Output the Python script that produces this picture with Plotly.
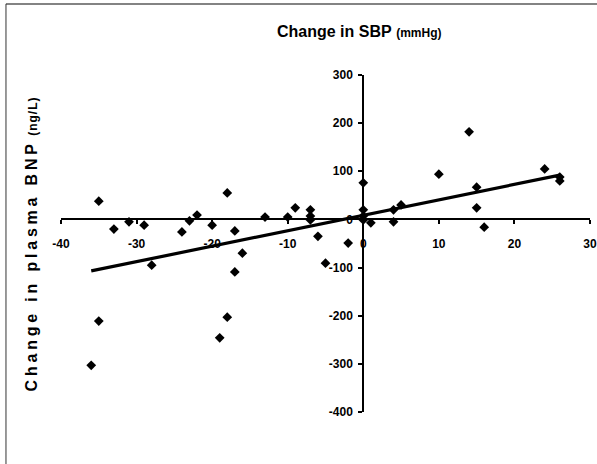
import numpy as np
import plotly.graph_objects as go

# Change in systolic blood pressure (mmHg) per subject
sbp_change = [
    -36, -35, -35, -33, -31, -29, -28, -24, -23, -22,
    -20, -18, -17, -16, -17, -18, -19, -13, -10, -9,
    -7, -7, -7, -6, -5, -2, 0, 0, 0, 0,
    1, 4, 4, 5, 10, 14, 15, 15, 16, 24,
    26, 26,
]
# Change in plasma BNP (ng/L) per subject
bnp_change = [
    -303, 38, -211, -20, -5, -12, -95, -26, -3, 9,
    -12, 55, -24, -70, -109, -203, -246, 5, 5, 24,
    20, 7, -1, -35, -91, -49, 76, 20, 7, -1,
    -7, 20, -5, 30, 94, 182, 67, 24, -16, 105,
    80, 88,
]

# Linear trend (slope, intercept)
trend_slope = 3.21
trend_intercept = 8.6

x_ticks = [-40, -30, -20, -10, 0, 10, 20, 30]
y_ticks = [-400, -300, -200, -100, 0, 100, 200, 300]
x_range = [-40, 30]
y_range = [-400, 300]

tick_font = dict(family="Liberation Sans Narrow, Arial Narrow, Liberation Sans, Arial",
                 size=12, color="black", weight="bold")
title_font = "Liberation Sans, Arial, sans-serif"

fig = go.Figure()

fig.add_trace(go.Scatter(
    x=sbp_change, y=bnp_change, mode="markers",
    marker=dict(symbol="diamond", size=7.5, color="black"),
    showlegend=False, hoverinfo="x+y",
))

tx = np.array([min(sbp_change), max(sbp_change)], dtype=float)
fig.add_trace(go.Scatter(
    x=tx, y=trend_slope * tx + trend_intercept, mode="lines",
    line=dict(color="black", width=3.2),
    showlegend=False, hoverinfo="skip",
))

# axes cross at the origin
x_cross = (0 - y_range[0]) / (y_range[1] - y_range[0])
y_cross = (0 - x_range[0]) / (x_range[1] - x_range[0])

fig.update_xaxes(
    range=x_range, tickvals=x_ticks, ticktext=[str(v) for v in x_ticks],
    showgrid=False, zeroline=False, showline=True, linecolor="black", linewidth=2,
    ticks="outside", ticklen=4, tickwidth=2, tickcolor="black",
    anchor="free", position=x_cross, tickfont=tick_font,
    ticklabelstandoff=9, automargin=False,
)
fig.update_yaxes(
    range=y_range, tickvals=y_ticks, ticktext=[str(v) for v in y_ticks],
    showgrid=False, zeroline=False, showline=True, linecolor="black", linewidth=2,
    ticks="outside", ticklen=4, tickwidth=2, tickcolor="black",
    anchor="free", position=y_cross, tickfont=tick_font,
    ticklabelstandoff=3, automargin=False,
)

# chart title
fig.add_annotation(
    xref="paper", yref="paper", x=0.563, y=1.128, xanchor="center", yanchor="middle",
    text="<b>Change in SBP</b> <b><span style='font-size:12px'>(mmHg)</span></b>",
    showarrow=False, font=dict(family=title_font, size=16, color="black"),
)

# vertical axis title
fig.add_annotation(
    xref="paper", yref="paper", x=-0.055, y=0.5, xanchor="center", yanchor="middle",
    textangle=-90,
    text=("<b><span style='letter-spacing:3.8px'>Change in plasma BNP</span></b> "
          "<b><span style='font-size:12px;letter-spacing:1px'>(ng/L)</span></b>"),
    showarrow=False, font=dict(family=title_font, size=16, color="black"),
)

# frame around the chart
fig.add_shape(type="line", xref="paper", yref="paper",
              x0=-0.104, y0=1.211, x1=1.2, y1=1.211,
              line=dict(color="#5a5a5a", width=1.5))
fig.add_shape(type="line", xref="paper", yref="paper",
              x0=-0.104, y0=1.211, x1=-0.104, y1=-0.3,
              line=dict(color="#333333", width=1))

fig.update_layout(
    width=597, height=464,
    margin=dict(l=61, r=7, t=75, b=52, autoexpand=False),
    paper_bgcolor="white", plot_bgcolor="white",
    showlegend=False,
)

fig.write_html("out.html")
